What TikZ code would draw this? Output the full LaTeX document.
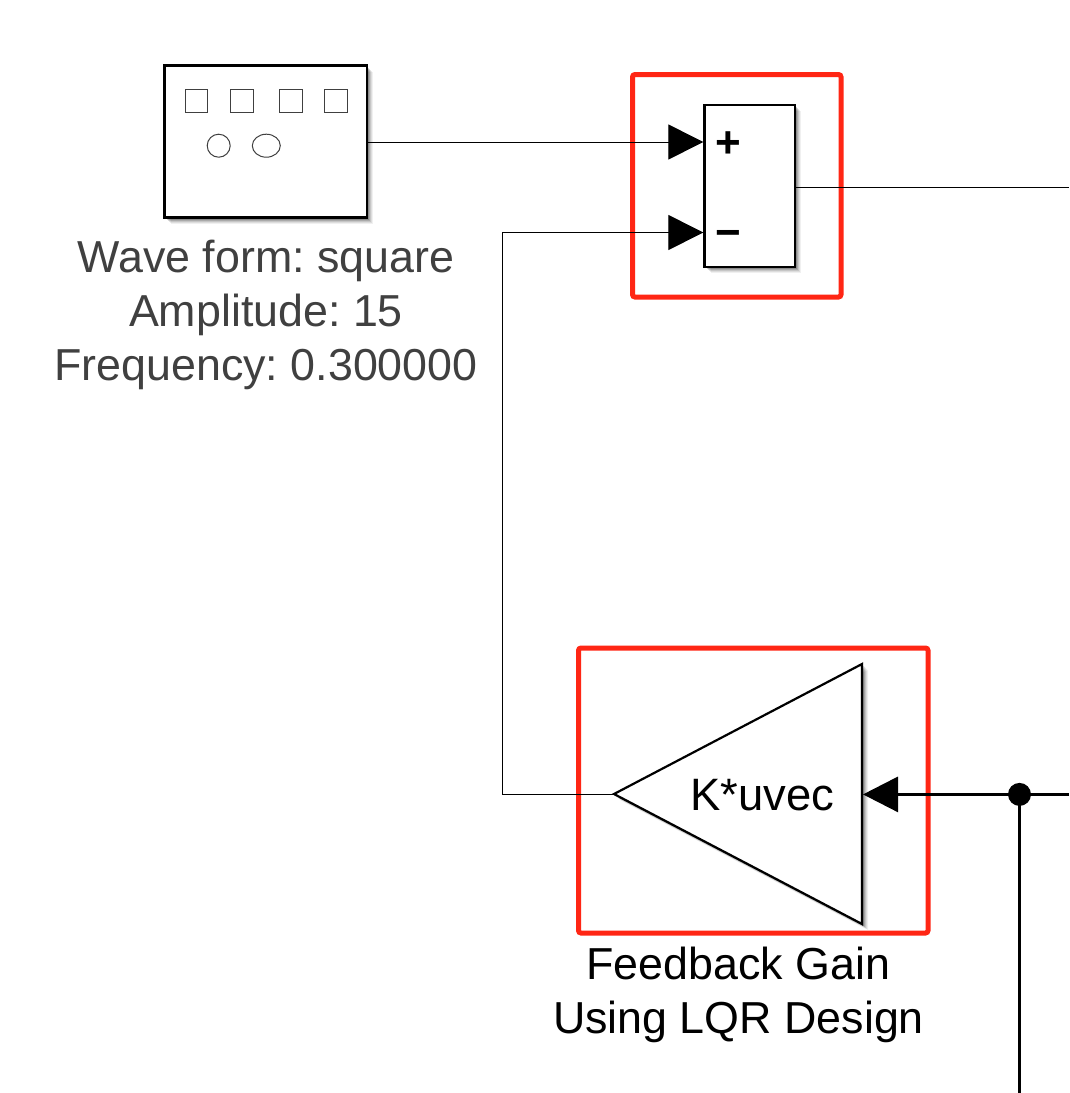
\documentclass[tikz,border=0pt]{standalone}
\usepackage{fontspec}
\setmainfont{Liberation Sans}
\usetikzlibrary{arrows.meta,shapes.geometric}
\definecolor{redbox}{HTML}{FF2614}
\definecolor{labelgray}{HTML}{404040}
\frenchspacing
\tikzset{
  block/.style={draw=black,fill=white,line width=2.3pt,inner sep=0pt,minimum width=#1},
  framebox/.style={draw=redbox,line width=5pt,rounded corners=2.5pt,inner sep=0pt},
  thinwire/.style={draw=black,line width=1pt},
  thickwire/.style={draw=black,line width=3pt},
  tip/.style={-{Triangle[length=35pt,width=35pt]}},
  glyph/.style={draw=black!75,line width=1pt,fill=white},
  lab/.style={font=\fontsize{44.8}{44.8}\selectfont,anchor=base,inner sep=0pt},
  sign/.style={font=\fontsize{44}{44}\selectfont\bfseries,inner sep=0pt},
  dot/.style={circle,fill=black,inner sep=0pt,minimum size=23pt}
}
\begin{document}
\begin{tikzpicture}[x=1pt,y=-1pt]
\useasboundingbox (0,0) rectangle (1069,1093);
\fill[white] (0,0) rectangle (1069,1093);
% red frames
\node[framebox,minimum width=208.5pt,minimum height=222.5pt] (frameA) at (736.75,185.75) {};
\node[framebox,minimum width=349.5pt,minimum height=285pt] (frameB) at (753.25,790.5) {};
% shadows
\foreach \d/\o in {6/.06,5/.08,4/.10,3/.14,2/.18}{
  \fill[black,opacity=\o] (164.5+\d,65.5+\d) rectangle (367+\d,217.5+\d);
  \fill[black,opacity=\o] (704.5+\d,105+\d) rectangle (795+\d,267+\d);
  \fill[black,opacity=\o] (614+\d,794+\d) -- (862+\d,664+\d) -- (862+\d,924+\d) -- cycle;
}
% source block
\node[block=202.5pt,minimum height=152pt] (source) at (265.75,141.5) {};
\draw[glyph] (185,89.3) rectangle (207.7,112.3);
\draw[glyph] (230,89.3) rectangle (253,112.3);
\draw[glyph] (279.7,89.3) rectangle (302.7,112.3);
\draw[glyph] (324.3,89.3) rectangle (347,112.3);
\draw[glyph] (218.7,145.7) circle (11.5);
\draw[glyph] (266.3,145.7) ellipse (14 and 11.5);
\node[lab,text=labelgray] (l1) at (266,272) {Wave form: square};
\node[lab,text=labelgray] (l2) at (266,326) {Amplitude: 15};
\node[lab,text=labelgray] (l3) at (266,380) {Frequency: 0.300000};
% sum block
\node[block=90.5pt,minimum height=162pt] (sum) at (749.75,186) {};
\coordinate (plusport) at (sum.west |- 0,142);
\coordinate (minusport) at (sum.west |- 0,232.5);
\node[sign] (plus) at (728,145) {+};
\node[sign] (minus) at (728,238.5) {−};
% gain
\coordinate (gainapex) at (614,794);
\coordinate (gaintop) at (862,664);
\coordinate (gainbot) at (862,924);
\coordinate (gainport) at (863,794);
\draw[black,fill=white,line width=2.2pt,line join=miter] (gainapex) -- (gaintop) -- (gainbot) -- cycle;
\node[font=\fontsize{45.4}{45.4}\selectfont,anchor=base,inner sep=0pt] (gain) at (762.5,810) {K*uvec};
\node[lab] (g1) at (738.5,979) {Feedback Gain};
\node[lab] (g2) at (738.5,1033) {Using LQR Design};
% wires
\coordinate (sumout) at (1069,187);
\coordinate (fbcorner) at (502.5,794.5);
\coordinate (fbtop) at (502.5,232.5);
\coordinate (east) at (1069,794.4);
\coordinate (south) at (1019.5,1093);
\draw[thinwire,tip] (source.east |- plusport) -- (plusport);
\draw[thinwire,tip] (gainapex |- fbcorner) -- (fbcorner) -- (fbtop) -- (minusport);
\draw[thinwire] (sum.east |- sumout) -- (sumout);
\node[dot] (junction) at (1019.5,794.4) {};
\draw[thickwire,tip] (east) -- (gainport |- east);
\draw[thickwire] (junction.center) -- (south);
\end{tikzpicture}
\end{document}
